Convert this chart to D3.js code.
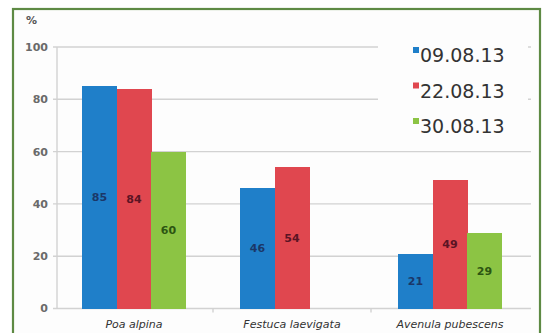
<!DOCTYPE html>
<html>
<head>
<meta charset="utf-8">
<script src="https://cdn.jsdelivr.net/npm/d3@7"></script>
<style>
  html, body { margin: 0; padding: 0; background: #fff; }
  svg { display: block; }
</style>
</head>
<body>
<svg id="chart" width="543" height="333"></svg>
<script>
// Species and sampling dates
const categories = ["Poa alpina", "Festuca laevigata", "Avenula pubescens"];
const seriesNames = ["09.08.13", "22.08.13", "30.08.13"];
const values0908 = [85, 46, 21];
const values2208 = [84, 54, 49];
const values3008 = [60, null, 29];
const yTicks = [0, 20, 40, 60, 80, 100];

const seriesValues = [values0908, values2208, values3008];
const fills = ["#1f7fc9", "#e0474f", "#8cc444"];
const labelFills = ["#1b3768", "#5a1424", "#2c5512"];

const svg = d3.select("#chart");

// frame
svg.append("rect")
  .attr("x", 13).attr("y", 9)
  .attr("width", 527).attr("height", 340)
  .attr("fill", "#fdfdfd")
  .attr("stroke", "#5e8a44").attr("stroke-width", 2.2);

const plot = { left: 55, right: 529, top: 47, bottom: 308.5, axisX: 57 };

const x = d3.scaleBand()
  .domain(categories)
  .range([plot.left, plot.right])
  .paddingInner(0).paddingOuter(0);

const xSeries = d3.scaleBand()
  .domain(seriesNames)
  .range([0, x.bandwidth()])
  .paddingInner(0)
  .paddingOuter(0.79);

const y = d3.scaleLinear().domain([0, 100]).range([plot.bottom, plot.top]);

// gridlines
svg.append("g")
  .selectAll("line")
  .data(yTicks)
  .join("line")
  .attr("x1", plot.axisX - 4)
  .attr("x2", plot.right + 2)
  .attr("y1", d => y(d))
  .attr("y2", d => y(d))
  .attr("stroke", "#d2d2d2")
  .attr("stroke-width", 1.4);

// vertical axis line
svg.append("line")
  .attr("x1", plot.axisX).attr("x2", plot.axisX)
  .attr("y1", y(100)).attr("y2", y(0))
  .attr("stroke", "#d2d2d2").attr("stroke-width", 1.4);

// category boundary ticks
svg.append("g")
  .selectAll("line")
  .data(categories.slice(1))
  .join("line")
  .attr("x1", d => x(d)).attr("x2", d => x(d))
  .attr("y1", y(0)).attr("y2", y(0) + 4)
  .attr("stroke", "#d2d2d2").attr("stroke-width", 1.4);

// y tick labels
svg.append("g")
  .selectAll("text")
  .data(yTicks)
  .join("text")
  .attr("x", 48)
  .attr("y", d => y(d))
  .attr("dy", "0.36em")
  .attr("text-anchor", "end")
  .attr("font-family", "DejaVu Sans, sans-serif")
  .attr("font-size", 11)
  .attr("font-weight", "bold")
  .attr("fill", "#6a6a6a")
  .text(d => d);

// unit label
svg.append("text")
  .attr("x", 26).attr("y", 24)
  .attr("font-family", "DejaVu Sans, sans-serif")
  .attr("font-size", 11)
  .attr("font-weight", "bold")
  .attr("fill", "#555")
  .text("%");

// bars
const bars = [];
seriesValues.forEach((vals, si) => {
  vals.forEach((v, ci) => {
    if (v !== null) bars.push({ si, cat: categories[ci], v });
  });
});

svg.append("g")
  .attr("shape-rendering", "crispEdges")
  .selectAll("rect")
  .data(bars)
  .join("rect")
  .attr("x", d => x(d.cat) + xSeries(seriesNames[d.si]))
  .attr("y", d => y(d.v))
  .attr("width", xSeries.bandwidth() + 0.5)
  .attr("height", d => y(0) - y(d.v))
  .attr("fill", d => fills[d.si]);

// value labels at the middle of each bar
svg.append("g")
  .selectAll("text")
  .data(bars)
  .join("text")
  .attr("x", d => x(d.cat) + xSeries(seriesNames[d.si]) + xSeries.bandwidth() / 2)
  .attr("y", d => (y(d.v) + y(0)) / 2)
  .attr("dy", "0.36em")
  .attr("text-anchor", "middle")
  .attr("font-family", "DejaVu Sans, sans-serif")
  .attr("font-size", 11)
  .attr("font-weight", "bold")
  .attr("fill", d => labelFills[d.si])
  .text(d => d.v);

// category labels
svg.append("g")
  .selectAll("text")
  .data(categories)
  .join("text")
  .attr("x", d => x(d) + x.bandwidth() / 2)
  .attr("y", 328)
  .attr("text-anchor", "middle")
  .attr("font-family", "DejaVu Sans, sans-serif")
  .attr("font-size", 11)
  .attr("font-style", "italic")
  .attr("fill", "#333")
  .text(d => d);

// legend
const legend = svg.append("g");
legend.append("rect")
  .attr("x", 378).attr("y", 36)
  .attr("width", 150).attr("height", 106)
  .attr("fill", "#fdfdfd");

const legendItems = legend.selectAll("g")
  .data(seriesNames)
  .join("g")
  .attr("transform", (d, i) => `translate(0, ${i * 35.5})`);

legendItems.append("rect")
  .attr("x", 413).attr("y", 47)
  .attr("width", 6).attr("height", 6)
  .attr("fill", (d, i) => fills[i]);

legendItems.append("text")
  .attr("x", 420).attr("y", 62)
  .attr("font-family", "DejaVu Sans, sans-serif")
  .attr("font-size", 19)
  .attr("fill", "#333")
  .text(d => d);
</script>
</body>
</html>
